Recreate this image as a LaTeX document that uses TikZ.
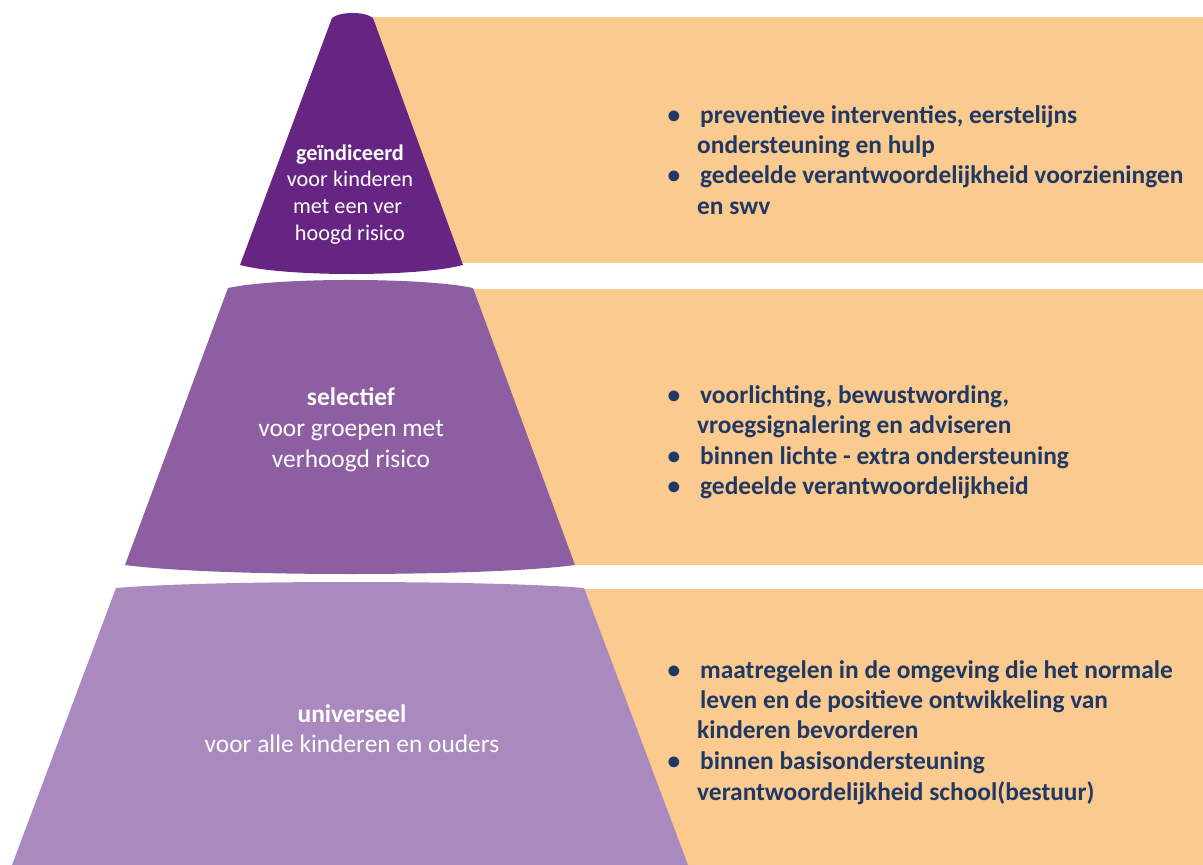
\documentclass[tikz,border=0pt]{standalone}
\usepackage{fontspec}
\setmainfont{Carlito}
\definecolor{tierA}{RGB}{102,36,131}
\definecolor{tierB}{RGB}{142,94,162}
\definecolor{tierC}{RGB}{170,137,190}
\definecolor{bandcol}{RGB}{251,202,142}
\definecolor{navy}{RGB}{32,56,100}
\definecolor{hyph}{RGB}{60,45,115}
\begin{document}
\begin{tikzpicture}[x=1pt,y=-1pt,
  lst/.style={anchor=base west, inner sep=0pt, text=navy, font=\bfseries\fontsize{25.4}{30.5}\selectfont},
  bul/.style={anchor=base, inner sep=0pt, text=navy, font=\bfseries\fontsize{25.4}{30.5}\selectfont},
  lbl/.style={anchor=base, inner sep=0pt, text=white, font=\fontsize{25.4}{30.5}\selectfont},
  lbls/.style={anchor=base, inner sep=0pt, text=white, font=\fontsize{22.3}{26.7}\selectfont},
  band/.style={fill=bandcol, draw=none}]
\useasboundingbox (0,0) rectangle (1203,865);
% orange bands
\fill[band] (360,17) rectangle (1203,263);
\fill[band] (450,289) rectangle (1203,565);
\fill[band] (560,589) rectangle (1203,865);
% pyramid tiers
\fill[tierA] (332,18) .. controls (340,11.3) and (365,11.3) .. (373,18)
  -- (463,265) .. controls (418,277) and (285,277) .. (240,265) -- cycle;
\fill[tierB] (228,288) .. controls (277,277.3) and (424,277.3) .. (473,288)
  -- (575,565) .. controls (485,577) and (215,577) .. (125,565) -- cycle;
\fill[tierC] (116,588) .. controls (210,580) and (490,580) .. (584,588)
  -- (688,865) -- (12,865) -- cycle;
% tier labels
\node[lbls] (a1) at (350,160) {\bfseries geïndiceerd};
\node[lbls] (a2) at (350,186.5) {voor kinderen};
\node[lbls] (a3) at (351,213) {met een ver\textcolor{hyph}{-}};
\node[lbls] (a4) at (350,240) {hoogd risico};
\node[lbl] (s1) at (351,405) {\bfseries selectief};
\node[lbl] (s2) at (351,436) {voor groepen met};
\node[lbl] (s3) at (351,467) {verhoogd risico};
\node[lbl] (u1) at (352,722) {\bfseries universeel};
\node[lbl] (u2) at (352,752) {voor alle kinderen en ouders};
% top list
\node[bul] (p1) at (674,123) {•};
\node[lst] (q1) at (700,123) {preventieve interventies, eerstelijns};
\node[lst] (q2) at (697,153) {ondersteuning en hulp};
\node[bul] (p2) at (674,183) {•};
\node[lst] (q3) at (700,183) {gedeelde verantwoordelijkheid voorzieningen};
\node[lst] (q4) at (697,214) {en swv};
% middle list
\node[bul] (m1) at (674,403) {•};
\node[lst] (n1) at (700,403) {voorlichting, bewustwording,};
\node[lst] (n2) at (697,433) {vroegsignalering en adviseren};
\node[bul] (m2) at (674,464) {•};
\node[lst] (n3) at (700,464) {binnen lichte - extra ondersteuning};
\node[bul] (m3) at (674,494) {•};
\node[lst] (n4) at (700,494) {gedeelde verantwoordelijkheid};
% bottom list
\node[bul] (k1) at (674,678) {•};
\node[lst] (r1) at (700,678) {maatregelen in de omgeving die het normale};
\node[lst] (r2) at (700,708) {leven en de positieve ontwikkeling van};
\node[lst] (r3) at (697,738.5) {kinderen bevorderen};
\node[bul] (k2) at (674,769) {•};
\node[lst] (r4) at (700,769) {binnen basisondersteuning};
\node[lst] (r5) at (697,800) {verantwoordelijkheid school(bestuur)};
\end{tikzpicture}
\end{document}
